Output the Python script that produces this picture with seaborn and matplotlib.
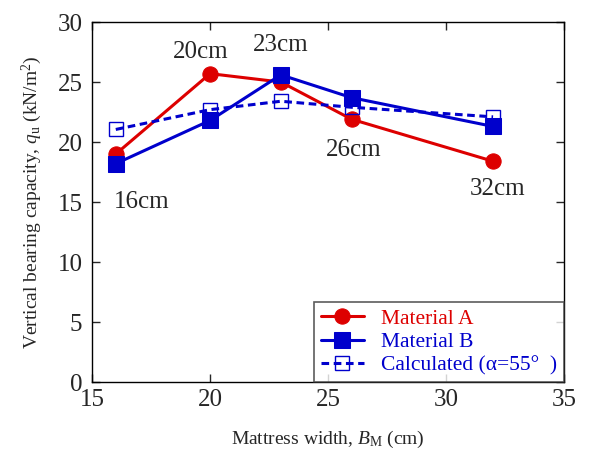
import pandas as pd
import seaborn as sns
import matplotlib.pyplot as plt

widths = [16, 20, 23, 26, 32]
material_a = [19.0, 25.7, 25.0, 21.9, 18.4]
material_b = [18.2, 21.8, 25.6, 23.7, 21.3]
calculated = [21.05, 22.7, 23.4, 22.9, 22.1]
width_labels = ["16cm", "20cm", "23cm", "26cm", "32cm"]
label_pos = [(17.1, 15.0), (19.6, 27.5), (23.0, 28.1), (26.1, 19.3), (32.2, 16.1)]

df = pd.DataFrame({"width": widths, "A": material_a, "B": material_b, "calc": calculated})

sns.set_style("ticks")
plt.rcParams['font.family'] = ['Liberation Serif', 'DejaVu Serif']
plt.rcParams['mathtext.fontset'] = 'custom'
plt.rcParams['mathtext.rm'] = 'Liberation Serif'
plt.rcParams['mathtext.it'] = 'Liberation Serif:italic'

red = "#dd0000"
blue = "#0000cc"

fig = plt.figure(figsize=(5.91, 4.5), dpi=100)
ax = fig.add_axes([0.156, 0.151, 0.798, 0.8])

sns.lineplot(data=df, x="width", y="A", ax=ax, color=red, lw=2.2, marker="o",
             markersize=11, markeredgecolor=red, label="Material A")
sns.lineplot(data=df, x="width", y="B", ax=ax, color=blue, lw=2.2, marker="s",
             markersize=12, markeredgecolor=blue, label="Material B")
sns.lineplot(data=df, x="width", y="calc", ax=ax, color=blue, lw=2.2, marker="s",
             markersize=10.5, markerfacecolor="none", markeredgecolor=blue,
             markeredgewidth=1, linestyle=(0, (2.5, 1.5)),
             label="Calculated (α=55°  )")

for lab, (tx, ty) in zip(width_labels, label_pos):
    ax.text(tx, ty, lab, ha="center", va="center", fontsize=18)

ax.set_xlim(15, 35)
ax.set_ylim(0, 30)
ax.set_xticks(range(15, 36, 5))
ax.set_yticks(range(0, 31, 5))
ax.tick_params(direction="in", top=True, right=True, labelsize=18, length=6, width=1)
ax.tick_params(axis="x", pad=5)
ax.tick_params(axis="y", pad=7)
for s in ax.spines.values():
    s.set_visible(True)
    s.set_linewidth(1)
    s.set_color("black")

ax.set_xlabel("Mattress width, $B_\\mathrm{M}$ (cm)", fontsize=14, labelpad=13)
ax.set_ylabel("Vertical bearing capacity, $q_\\mathrm{u}$ (kN/m$^2$)", fontsize=14, labelpad=10)

leg = ax.legend(loc="lower right", fontsize=15.5, frameon=True, fancybox=False,
                borderaxespad=0, handlelength=2.0, labelspacing=0.15, borderpad=0.3,
                handletextpad=0.8)
leg.get_frame().set_edgecolor("#333333")
leg.get_frame().set_linewidth(1.2)
for t, c in zip(leg.get_texts(), [red, blue, blue]):
    t.set_color(c)

fig.savefig("out.png", dpi=100)
